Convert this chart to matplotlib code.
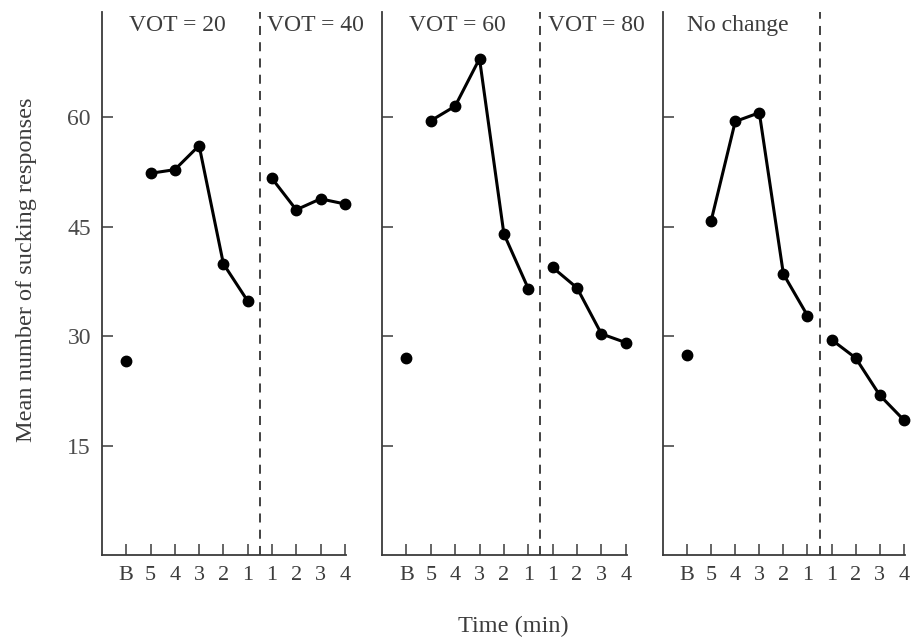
import numpy as np
import matplotlib.pyplot as plt

plt.rcParams['font.family'] = ['Liberation Serif', 'DejaVu Serif']

# Данные: базовая линия (B), 5 мин до смены, 4 мин после смены
tick_labels = ['B', '5', '4', '3', '2', '1', '1', '2', '3', '4']
panel_titles = [('VOT = 20', 'VOT = 40'), ('VOT = 60', 'VOT = 80'), ('No change', '')]
baseline = [26.6, 27.0, 27.4]
before = [
    [52.3, 52.8, 56.1, 39.9, 34.8],
    [59.5, 61.5, 68.0, 44.0, 36.5],
    [45.8, 59.4, 60.6, 38.5, 32.8],
]
after = [
    [51.6, 47.3, 48.8, 48.1],
    [39.4, 36.6, 30.3, 29.1],
    [29.5, 27.0, 21.9, 18.5],
]
y_ticks = [15, 30, 45, 60]

x = np.arange(len(tick_labels))
ax_color = '#3a3a3a'
txt_color = '#3c3c3c'

fig = plt.figure(figsize=(9.12, 6.37), dpi=100)
lefts = [102, 382, 663]
rights = [346, 627, 905]
bottom = 1 - 555 / 637
top = 1 - 12 / 637

for k in range(3):
    ax = fig.add_axes([lefts[k] / 912, bottom, (rights[k] - lefts[k]) / 912, top - bottom])
    ax.set_xlim(-1, 9.05)
    ax.set_ylim(0, 74.4)
    for s in ['top', 'right']:
        ax.spines[s].set_visible(False)
    for s in ['left', 'bottom']:
        ax.spines[s].set_color(ax_color)
        ax.spines[s].set_linewidth(1.3)
    ax.set_xticks(x)
    ax.set_xticklabels(tick_labels, fontsize=16, color=txt_color)
    ax.set_yticks(y_ticks)
    if k == 0:
        ax.set_yticklabels([str(v) for v in y_ticks], fontsize=17, color='#4a4a4a')
    else:
        ax.set_yticklabels([])
    ax.tick_params(direction='in', length=8, width=1.1, color=ax_color, pad=8)

    ax.plot(x[0], baseline[k], 'o', color='black', markersize=7.5, clip_on=False)
    ax.plot(x[1:6], before[k], '-o', color='black', lw=2.2, markersize=7.5, clip_on=False)
    ax.plot(x[6:], after[k], '-o', color='black', lw=2.2, markersize=7.5, clip_on=False)
    ax.axvline(5.5, color='#333333', lw=1.3, ls=(0, (5, 4)))

    ax.text(2.1, 72.6, panel_titles[k][0], ha='center', va='center', fontsize=17, color=txt_color)
    if panel_titles[k][1]:
        ax.text(7.8, 72.6, panel_titles[k][1], ha='center', va='center', fontsize=17, color=txt_color)

fig.text(27 / 912, 1 - 270 / 637, 'Mean number of sucking responses', rotation=90,
         ha='center', va='center', fontsize=17.5, color=txt_color)
fig.text(513 / 912, 1 - 626 / 637, 'Time (min)', ha='center', va='center', fontsize=17.5, color=txt_color)

fig.savefig('out.png', dpi=100)
